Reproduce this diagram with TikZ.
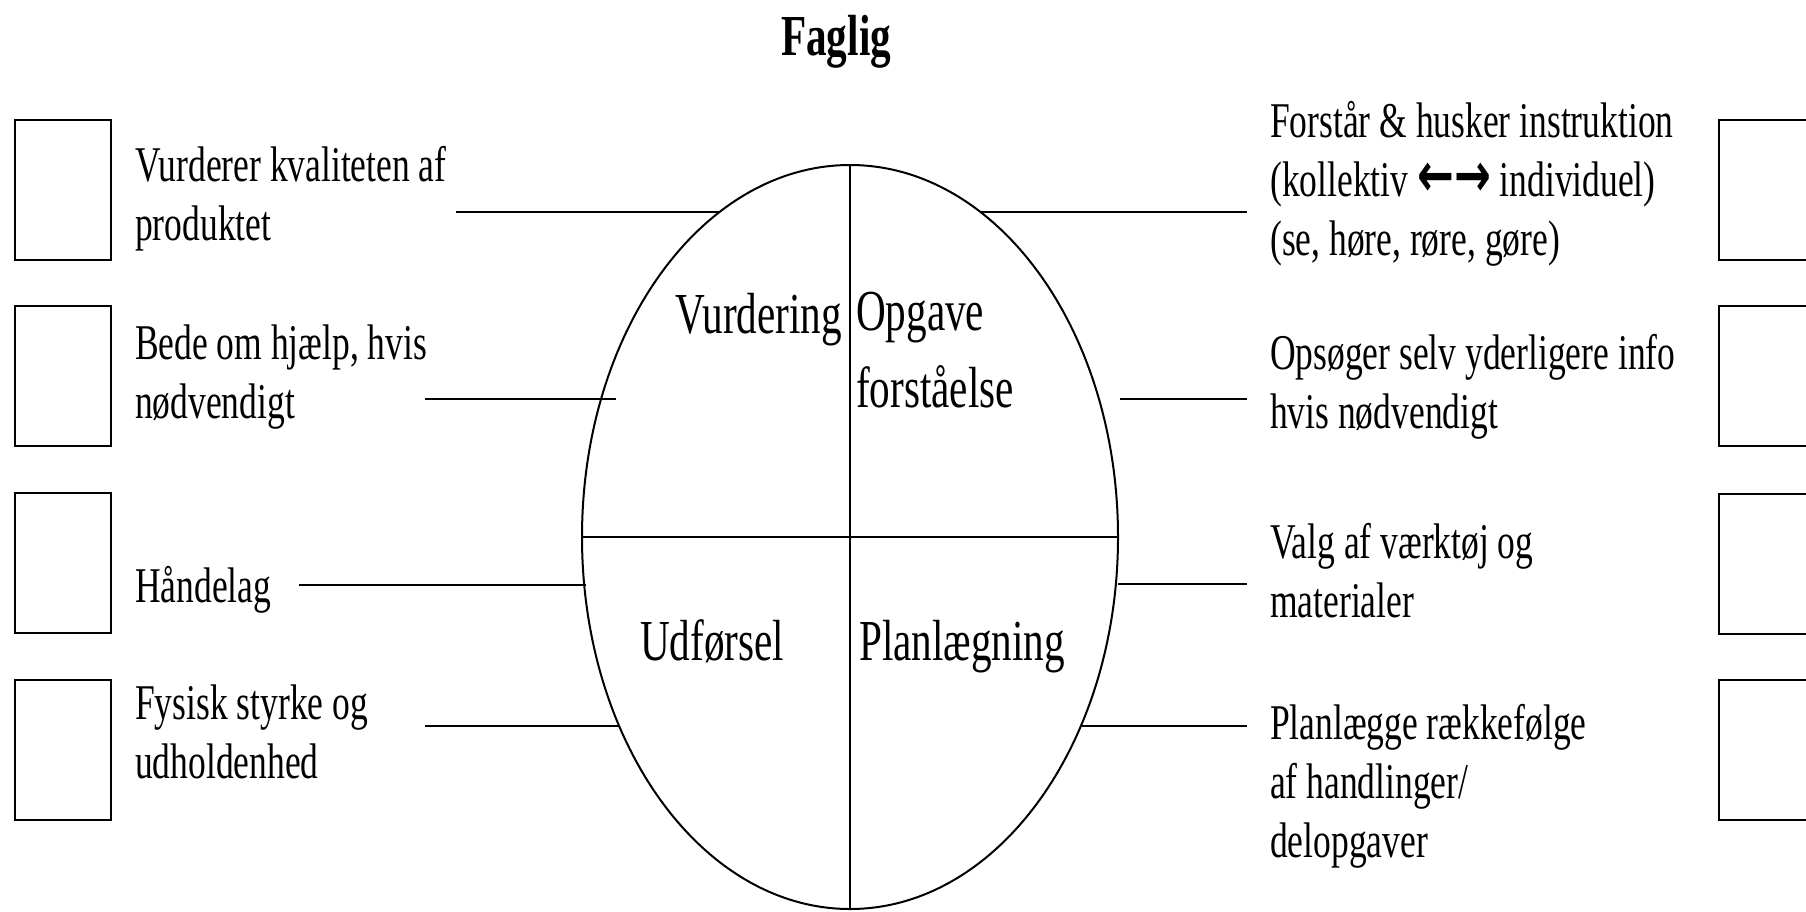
\documentclass[tikz,border=0pt]{standalone}
\usepackage{fontspec}
\setmainfont{Liberation Serif}[FakeStretch=0.71]
\newfontfamily\arrowfont{DejaVu Sans}[FakeStretch=0.71]

\tikzset{
  tickbox/.style={draw, line width=2.4pt, minimum width=96pt, minimum height=140pt, inner sep=0pt, anchor=north west},
  item/.style={anchor=base west, align=left, inner sep=0pt, font=\fontsize{50}{59}\selectfont},
  part/.style={anchor=base west, align=left, inner sep=0pt, font=\fontsize{58}{77}\selectfont},
  link/.style={line width=2.6pt},
}

\begin{document}
\begin{tikzpicture}[x=1pt, y=-1pt]

\useasboundingbox (0,0) rectangle (1806,911);
\clip (0,0) rectangle (1806,911);

% Define radii of the ellipse
\def\rx{268}
\def\ry{372}

% Define center O
\coordinate (O) at (850,537);

% Define ends of the two dividing lines
\coordinate (T) at (850,165);
\coordinate (B) at (850,909);
\coordinate (L) at (582,537);
\coordinate (R) at (1118,537);

% Draw the ellipse
\draw[line width=2pt] (O) ellipse [x radius=\rx pt, y radius=\ry pt];

% Draw the quadrant lines
\draw[line width=1.8pt] (T) -- (B);
\draw[line width=1.8pt] (L) -- (R);

% Title
\node[anchor=base west, inner sep=0pt, font=\fontsize{58}{70}\selectfont\bfseries] (title) at (781,55) {Faglig};

% Label quadrants (base = last line)
\node[part] (vurd) at (675,333) {Vurdering};
\node[part] (opg) at (856,407) {Opgave\\forståelse};
\node[part] (udf) at (640,660) {Udførsel};
\node[part] (plan) at (859,660) {Planlægning};

% Items on the left
\node[item] (kval) at (135,240) {Vurderer kvaliteten af\\produktet};
\node[item] (hjaelp) at (135,418) {Bede om hjælp, hvis\\nødvendigt};
\node[item] (haand) at (135,602) {Håndelag};
\node[item] (styrke) at (135,778) {Fysisk styrke og\\udholdenhed};

% Items on the right
\node[item] (instr) at (1270,255) {Forstår \& husker instruktion\\(kollektiv {\arrowfont\bfseries\fontsize{62}{59}\selectfont ←→} individuel)\\(se, høre, røre, gøre)};
\node[item] (info) at (1270,428) {Opsøger selv yderligere info\\hvis nødvendigt};
\node[item] (vaerk) at (1270,617) {Valg af værktøj og\\materialer};
\node[item] (raekke) at (1270,857) {Planlægge rækkefølge\\af handlinger/\\delopgaver};

% Tick boxes
\node[tickbox] (boxA) at (14,119) {};
\node[tickbox] (boxB) at (14,305) {};
\node[tickbox] (boxC) at (14,492) {};
\node[tickbox] (boxD) at (14,679) {};
\node[tickbox] (boxE) at (1718,119) {};
\node[tickbox] (boxF) at (1718,305) {};
\node[tickbox] (boxG) at (1718,493) {};
\node[tickbox] (boxH) at (1718,679) {};

% Ends of the lines on the left
\coordinate (kval-e) at (456,212);
\coordinate (kval-o) at (720,212);
\coordinate (hjaelp-e) at (425,399);
\coordinate (hjaelp-o) at (616,399);
\coordinate (haand-e) at (299,585);
\coordinate (haand-o) at (586,585);
\coordinate (styrke-e) at (425,726);
\coordinate (styrke-o) at (619,726);

% Ends of the lines on the right
\coordinate (instr-o) at (980,212);
\coordinate (instr-e) at (1247,212);
\coordinate (info-o) at (1120,399);
\coordinate (info-e) at (1247,399);
\coordinate (vaerk-o) at (1118,584);
\coordinate (vaerk-e) at (1247,584);
\coordinate (raekke-o) at (1082,726);
\coordinate (raekke-e) at (1247,726);

% Draw the lines
\draw[link] (kval-e) -- (kval-o);
\draw[link] (hjaelp-e) -- (hjaelp-o);
\draw[link] (haand-e) -- (haand-o);
\draw[link] (styrke-e) -- (styrke-o);
\draw[link] (instr-o) -- (instr-e);
\draw[link] (info-o) -- (info-e);
\draw[link] (vaerk-o) -- (vaerk-e);
\draw[link] (raekke-o) -- (raekke-e);

\end{tikzpicture}
\end{document}
